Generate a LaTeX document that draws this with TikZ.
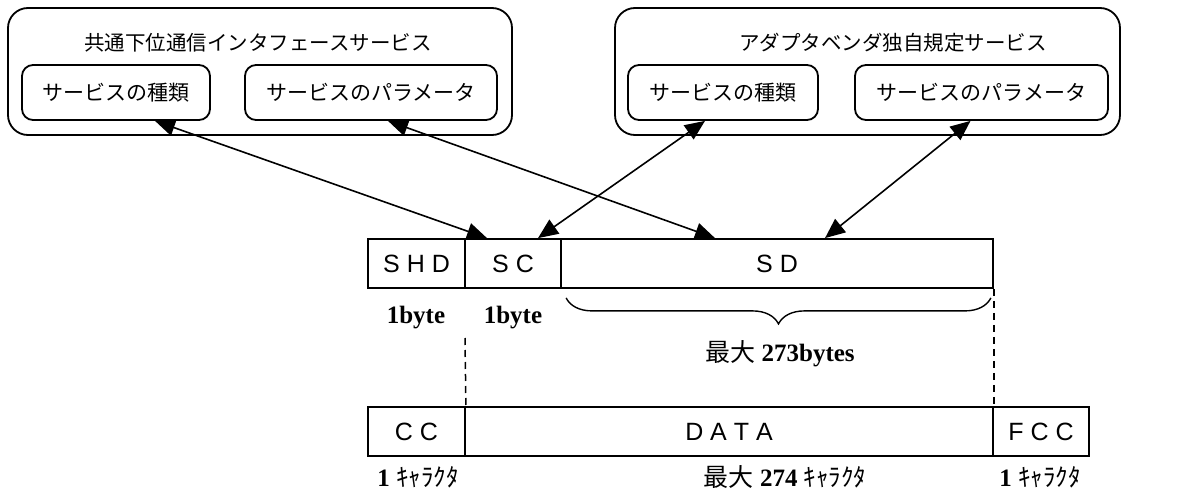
\documentclass[tikz,border=0pt]{standalone}
\usepackage{fontspec}
\setmainfont{Liberation Sans}
\newfontfamily\jp{Noto Sans CJK JP}
\newfontfamily\lat{Liberation Sans}
\newfontfamily\ser{Liberation Serif}
\newcommand{\kn}[1]{{\jp\mdseries\fontsize{25}{28}\selectfont #1}}
\usetikzlibrary{arrows.meta,decorations.pathreplacing,calc}
\begin{document}
\begin{tikzpicture}[x=1pt,y=-1pt,line width=1.8pt,
  outerbox/.style={draw,rounded corners=20pt,minimum width=#1,minimum height=127pt,inner sep=0pt},
  innerbox/.style={draw,rounded corners=11pt,minimum width=#1,minimum height=55pt,inner sep=0pt,font=\jp\fontsize{21}{24}\selectfont},
  title/.style={font=\jp\fontsize{20.5}{24}\selectfont,inner sep=0pt},
  field/.style={draw,line width=1.8pt,minimum width=#1,minimum height=49pt,inner sep=0pt,font=\lat\fontsize{25}{28}\selectfont},
  lbl/.style={inner sep=0pt,font=\ser\bfseries\fontsize{25}{28}\selectfont},
  dbl/.style={line width=1.6pt,{Triangle[length=20pt,width=17pt]}-{Triangle[length=20pt,width=17pt]}},
  dsh/.style={line width=1.5pt,dash pattern=on 7pt off 5pt}]
\useasboundingbox (0,0) rectangle (1195,495);
% upper boxes
\node[outerbox=504pt] (o1) at (260,71.5) {};
\node[outerbox=505pt] (o2) at (867.5,71.5) {};
\node[title] (t1) at (258,43) {共通下位通信インタフェースサービス};
\node[title] (t2) at (893,43) {アダプタベンダ独自規定サービス};
\node[innerbox=188pt] (b1) at (116,92.5) {サービスの種類};
\node[innerbox=252pt] (b2) at (371,92.5) {サービスのパラメータ};
\node[innerbox=190pt] (b3) at (723,92.5) {サービスの種類};
\node[innerbox=253pt] (b4) at (981.5,92.5) {サービスのパラメータ};
% frame 1
\node[field=97pt] (shd) at (416.5,263.5) {S H D};
\node[field=96pt] (sc) at (513,263.5) {S C};
\node[field=432pt] (sd) at (777,263.5) {S D};
% frame 2
\node[field=97pt] (cc) at (416.5,431.5) {C C};
\node[field=528pt] (data) at (729,431.5) {D A T A};
\node[field=96pt] (fcc) at (1041,431.5) {F C C};
% arrows
\draw[dbl] ([xshift=39pt]b1.south) -- ([xshift=-26pt]sc.north);
\draw[dbl] ([xshift=17pt]b2.south) -- ([xshift=-62pt]sd.north);
\draw[dbl] ([xshift=-18pt]b3.south) -- ([xshift=25pt]sc.north);
\draw[dbl] ([xshift=-11pt]b4.south) -- ([xshift=48pt]sd.north);
% labels
\node[lbl] (l1) at (416,318) {1byte};
\node[lbl] (l2) at (513,318) {1byte};
\draw[line width=1.4pt,decorate,decoration={brace,mirror,amplitude=26pt}] ([xshift=6pt,yshift=-9pt]sd.south west) -- ([xshift=-3pt,yshift=-9pt]sd.south east);
\node[lbl] (l3) at (780,354) {\kn{最大} 273bytes};
\coordinate (d1) at (465,338);
\draw[dsh] (d1) -- (cc.north east);
\draw[dsh] (sd.south east) -- (data.north east);
\node[lbl] (l4) at (418,477) {1 \kn{ｷｬﾗｸﾀ}};
\node[lbl] (l5) at (785,477) {\kn{最大} 274 \kn{ｷｬﾗｸﾀ}};
\node[lbl] (l6) at (1040,477) {1 \kn{ｷｬﾗｸﾀ}};
\end{tikzpicture}
\end{document}
